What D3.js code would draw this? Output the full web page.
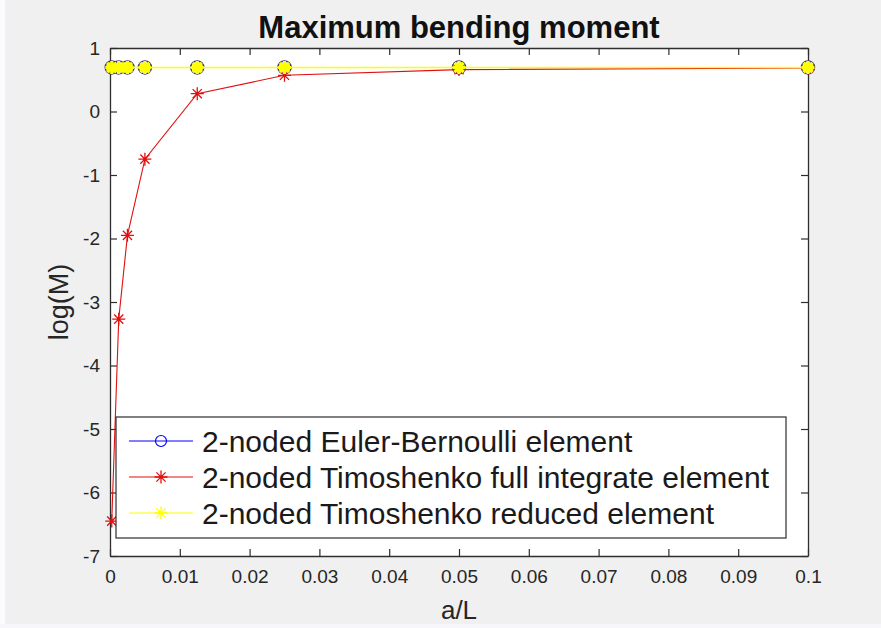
<!DOCTYPE html>
<html><head><meta charset="utf-8">
<script src="https://cdn.jsdelivr.net/npm/d3@7"></script>
<style>html,body{margin:0;padding:0;background:#f0f0f0;}svg{display:block;}</style>
</head><body>
<svg id="c" width="881" height="628"></svg>
<script>
const xValues = [0.00025, 0.00125, 0.0025, 0.005, 0.0125, 0.025, 0.05, 0.1];
const eulerBernoulli = [0.693, 0.693, 0.693, 0.693, 0.693, 0.693, 0.693, 0.693];
const timoFull = [-6.45, -3.27, -1.95, -0.75, 0.28, 0.57, 0.66, 0.685];
const timoReduced = [0.693, 0.693, 0.693, 0.693, 0.693, 0.693, 0.693, 0.693];
const xTicks = [0, 0.01, 0.02, 0.03, 0.04, 0.05, 0.06, 0.07, 0.08, 0.09, 0.1];
const xTickLabels = ["0", "0.01", "0.02", "0.03", "0.04", "0.05", "0.06", "0.07", "0.08", "0.09", "0.1"];
const yTicks = [-7, -6, -5, -4, -3, -2, -1, 0, 1];
const yTickLabels = ["-7", "-6", "-5", "-4", "-3", "-2", "-1", "0", "1"];
const legendLabels = ["2-noded Euler-Bernoulli element", "2-noded Timoshenko full integrate element", "2-noded Timoshenko reduced element"];
const seriesColors = ["#0000ff", "#e01010", "#ffff00"];
const titleText = "Maximum bending moment";
const xLabel = "a/L";
const yLabel = "log(M)";

const svg = d3.select("#c");
const FONT = "'Liberation Sans', Arial, Helvetica, sans-serif";
const L = 110, R = 808, T = 48, B = 556;
const x = d3.scaleLinear().domain([0, 0.1]).range([L, R]);
const y = d3.scaleLinear().domain([-7, 1]).range([B, T]);

// background strips
svg.append("rect").attr("x", 0).attr("y", 0).attr("width", 881).attr("height", 628).attr("fill", "#f0f0f0");
svg.append("rect").attr("x", 0).attr("y", 0).attr("width", 5).attr("height", 628).attr("fill", "#fbfbfd");
svg.append("rect").attr("x", 0).attr("y", 624).attr("width", 881).attr("height", 4).attr("fill", "#f6f6fb");

// plot area
svg.append("rect").attr("x", L).attr("y", T).attr("width", R - L).attr("height", B - T).attr("fill", "#fff");

const axCol = "#2e2e2e";
const tl = 7;
const gxB = svg.append("g").attr("transform", `translate(0,${B})`)
  .call(d3.axisBottom(x).tickValues(xTicks).tickFormat((d, i) => xTickLabels[i]).tickSizeInner(-tl).tickSizeOuter(0).tickPadding(14));
const gxT = svg.append("g").attr("transform", `translate(0,${T})`)
  .call(d3.axisTop(x).tickValues(xTicks).tickFormat("").tickSizeInner(-tl).tickSizeOuter(0));
const gyL = svg.append("g").attr("transform", `translate(${L},0)`)
  .call(d3.axisLeft(y).tickValues(yTicks).tickFormat((d, i) => yTickLabels[i]).tickSizeInner(-tl).tickSizeOuter(0).tickPadding(10));
const gyR = svg.append("g").attr("transform", `translate(${R},0)`)
  .call(d3.axisRight(y).tickValues(yTicks).tickFormat("").tickSizeInner(-tl).tickSizeOuter(0));
[gxB, gxT, gyL, gyR].forEach(g => {
  g.selectAll("path.domain").attr("stroke", axCol).attr("stroke-width", 1.3);
  g.selectAll(".tick line").attr("stroke", axCol).attr("stroke-width", 1.2);
  g.selectAll("text").attr("fill", "#262626").attr("font-family", FONT).attr("font-size", 19);
});

const lineGen = d3.line().x(d => x(d[0])).y(d => y(d[1]));
const series = [eulerBernoulli, timoFull, timoReduced];
const plotG = svg.append("g");

function starPath(r) {
  const d = r * Math.SQRT1_2;
  return `M${-r},0L${r},0M0,${-r}L0,${r}M${-d},${-d}L${d},${d}M${-d},${d}L${d},${-d}`;
}

series.forEach((vals, si) => {
  const pts = xValues.map((xv, i) => [xv, vals[i]]);
  plotG.append("path").attr("d", lineGen(pts)).attr("fill", "none")
    .attr("stroke", seriesColors[si]).attr("stroke-width", si === 2 ? 1.6 : 1.1);
  const mk = plotG.selectAll(null).data(pts).enter().append("g")
    .attr("transform", d => `translate(${x(d[0])},${y(d[1])})`);
  if (si === 0) {
    mk.append("circle").attr("r", 6.5).attr("fill", "none").attr("stroke", "#3a3a70").attr("stroke-width", 1.5);
  } else if (si === 1) {
    mk.append("path").attr("d", starPath(6.5)).attr("stroke", seriesColors[1]).attr("stroke-width", 1.3).attr("fill", "none");
  } else {
    mk.append("path").attr("d", starPath(6.5)).attr("stroke", "#ffff00").attr("stroke-width", 3.2).attr("fill", "none");
    mk.append("circle").attr("r", 4).attr("fill", "#ffff00");
  }
});

// legend
const lgX = 116, lgY = 417, lgW = 670, lgH = 121, rowH = 36;
svg.append("rect").attr("x", lgX).attr("y", lgY).attr("width", lgW).attr("height", lgH)
  .attr("fill", "#fff").attr("stroke", axCol).attr("stroke-width", 1.2);
legendLabels.forEach((lab, i) => {
  const cy = lgY + 24 + i * rowH;
  const g = svg.append("g");
  g.append("line").attr("x1", lgX + 13).attr("x2", lgX + 77).attr("y1", cy).attr("y2", cy)
    .attr("stroke", seriesColors[i]).attr("stroke-width", 1.2);
  const cx = lgX + 45;
  if (i === 0) g.append("circle").attr("cx", cx).attr("cy", cy).attr("r", 5.5).attr("fill", "none").attr("stroke", seriesColors[0]).attr("stroke-width", 1.2);
  else g.append("path").attr("transform", `translate(${cx},${cy})`).attr("d", starPath(6.5)).attr("stroke", seriesColors[i]).attr("stroke-width", 1.3);
  g.append("text").attr("x", lgX + 86).attr("y", cy).attr("dy", "0.36em")
    .attr("font-family", FONT).attr("font-size", 30).attr("fill", "#1a1a1a").text(lab);
});

// title & labels
svg.append("text").attr("x", (L + R) / 2).attr("y", 38).attr("text-anchor", "middle")
  .attr("font-family", FONT).attr("font-weight", "bold").attr("font-size", 31).attr("fill", "#111").text(titleText);
svg.append("text").attr("x", (L + R) / 2).attr("y", 619).attr("text-anchor", "middle")
  .attr("font-family", FONT).attr("font-size", 26).attr("fill", "#262626").text(xLabel);
svg.append("text").attr("transform", `translate(68,${(T + B) / 2}) rotate(-90)`).attr("text-anchor", "middle")
  .attr("font-family", FONT).attr("font-size", 27).attr("fill", "#262626").text(yLabel);
</script>
</body></html>
